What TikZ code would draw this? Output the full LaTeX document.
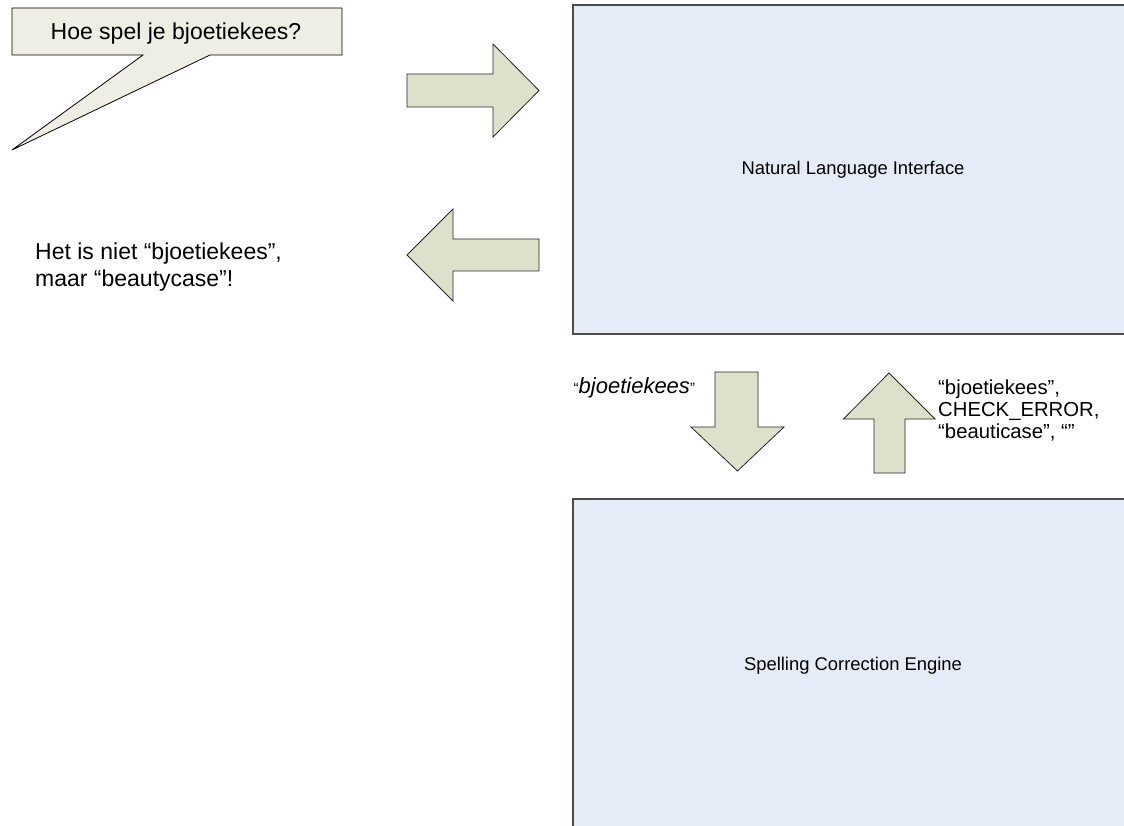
\documentclass[tikz,border=0pt]{standalone}
\usepackage{fontspec}
\setmainfont{Liberation Sans}
\usepackage{tikz}
\definecolor{panelblue}{RGB}{230,236,247}
\definecolor{arrowgreen}{RGB}{221,225,204}
\definecolor{bubblegrey}{RGB}{238,238,228}

\begin{document}
\begin{tikzpicture}[x=1pt,y=-1pt]
            \tikzset{
                panel/.style={rectangle,draw=black!70,line width=1.5pt,fill=panelblue,minimum width=560pt,inner sep=0pt,font=\fontsize{18.4}{22}\selectfont},
                blockarrow/.style={draw=black!85,line width=0.8pt,fill=arrowgreen,line join=miter},
                bubble/.style={draw=black,line width=0.8pt,fill=bubblegrey},
                note/.style={inner sep=0pt,align=left}
            }
            \useasboundingbox (0,0) rectangle (1124,826);
            \clip (0,0) rectangle (1124,826);

            % modules
            \node[panel,minimum height=329pt] (nli) at (853,169.5) {Natural Language Interface};
            \node[panel,minimum height=334pt] (sce) at (853,666) {Spelling Correction Engine};

            % question
            \coordinate (tip) at (12,150);
            \draw[bubble] (12,8) -- (342,8) -- (342,55) -- (210,55) -- (tip) -- (143,55) -- (12,55) -- cycle;
            \node[note,anchor=base,font=\fontsize{23}{27}\selectfont] (ask) at (176,39.3) {Hoe spel je bjoetiekees?};

            % answer
            \node[note,anchor=north west,font=\fontsize{23}{27}\selectfont] (reply) at (35,242.5) {Het is niet “bjoetiekees”,\\maar “beautycase”!};

            % arrows
            \draw[blockarrow] (407,74) -- (493,74) -- (493,44) -- (539,90.5) -- (493,137) -- (493,107) -- (407,107) -- cycle;
            \draw[blockarrow] (539,239) -- (453,239) -- (453,209) -- (407,255) -- (453,301) -- (453,271) -- (539,271) -- cycle;
            \draw[blockarrow] (715,372) -- (758,372) -- (758,427) -- (784,427) -- (737.5,471) -- (691,427) -- (715,427) -- cycle;
            \draw[blockarrow] (874,473) -- (874,419) -- (843.5,419) -- (889,373) -- (935,419) -- (905,419) -- (905,473) -- cycle;

            % messages
            \node[note,anchor=base west,font=\fontsize{22}{26}\selectfont] (req) at (573.5,393) {{\fontsize{15}{15}\selectfont “}\textit{bjoetiekees}{\fontsize{15}{15}\selectfont ”}};
            \node[note,anchor=north west,font=\fontsize{20.3}{22}\selectfont] (resp) at (938,379.2) {“bjoetiekees”,\\CHECK\_ERROR,\\“beauticase”, “”};
\end{tikzpicture}
\end{document}
